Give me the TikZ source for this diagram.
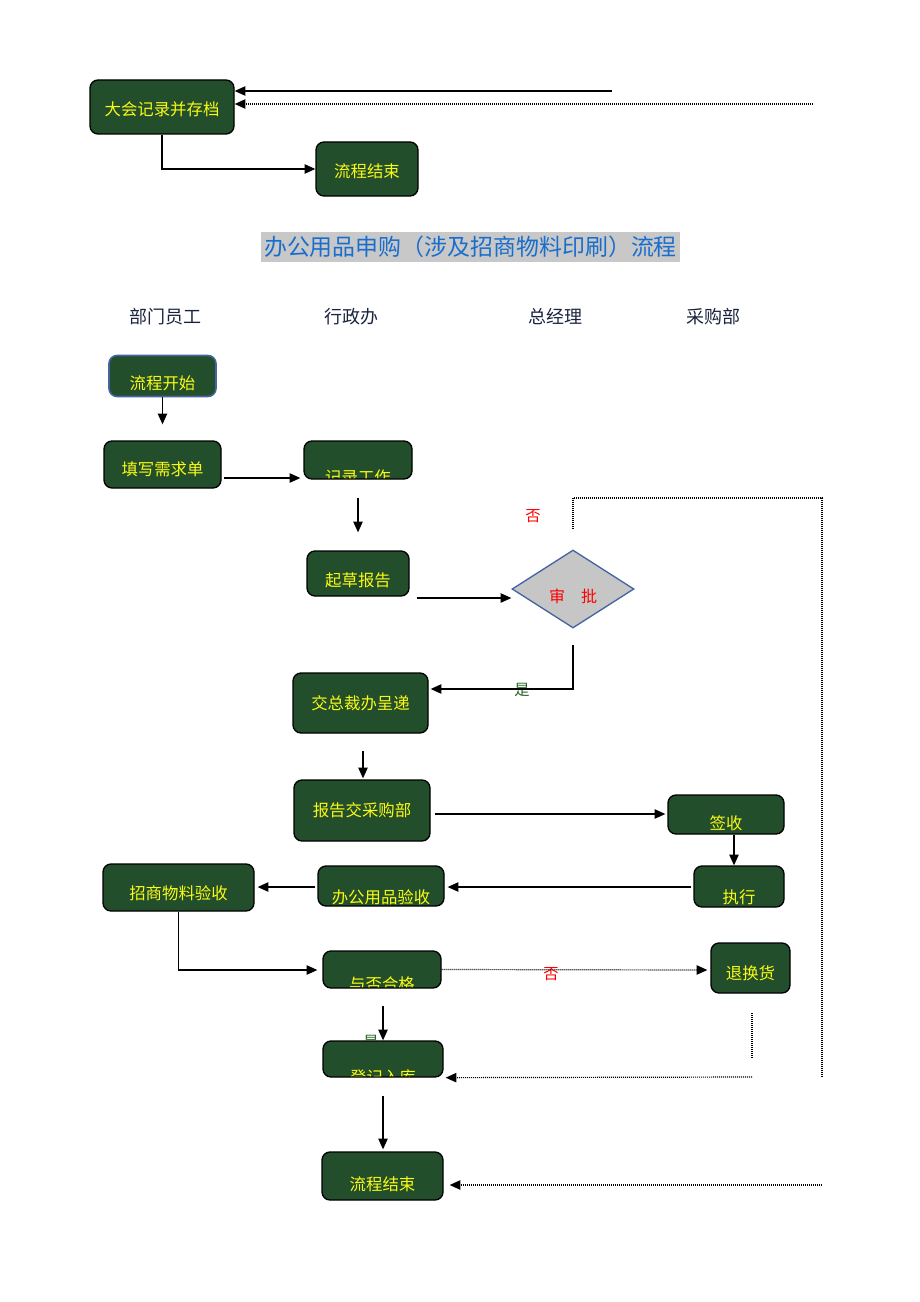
\documentclass[tikz,border=0pt]{standalone}
\usepackage{fontspec}
\setmainfont{Noto Sans CJK SC}
\usetikzlibrary{arrows.meta,shapes.geometric,calc}
\definecolor{boxgreen}{RGB}{34,78,44}
\definecolor{boxtext}{RGB}{250,250,20}
\definecolor{titleblue}{RGB}{25,110,205}
\definecolor{titlebg}{RGB}{200,200,200}
\definecolor{headcol}{RGB}{25,35,60}
\definecolor{dborder}{RGB}{70,100,160}
\definecolor{yesgreen}{RGB}{40,100,40}
\tikzset{
  box/.style={draw=black, line width=1pt, rounded corners=6pt, fill=boxgreen, inner sep=0pt},
  txt/.style={text=boxtext, font=\fontsize{12.3}{14}\selectfont, inner sep=0pt},
  arr/.style={line width=0.9pt, -{Triangle[length=8pt,width=7pt]}},
  dotarr/.style={line width=0.9pt, dash pattern=on 0.7pt off 0.8pt, -{Triangle[length=8pt,width=7pt]}},
  dotln/.style={line width=0.9pt, dash pattern=on 0.7pt off 0.8pt},
  head/.style={text=headcol, font=\fontsize{13.5}{15}\selectfont},
  nolab/.style={text=red, font=\fontsize{11.5}{13}\selectfont},
  yeslab/.style={text=yesgreen, font=\fontsize{11.5}{13}\selectfont},
}
% name, cx, cy, w, h, text, text y
\newcommand\bx[7]{%
  \pgfmathsetmacro\tyoff{-(#7-#3)*0.75}%
  \node[box, minimum width=#4*0.75pt, minimum height=#5*0.75pt,
    path picture={\node[txt] at ([yshift=\tyoff pt]path picture bounding box.center) {#6};}] (#1) at (#2,#3) {};}
\begin{document}
\begin{tikzpicture}[x=0.75pt,y=-0.75pt]
\useasboundingbox (0,0) rectangle (920,1302);

% top part
\bx{n1}{162}{107}{144}{54}{大会记录并存档}{109}
\bx{n2}{367}{169}{102}{54}{流程结束}{171}
\coordinate (a1) at (612,91);
\coordinate (a2) at (813,104);
\draw[arr] (a1) -- (a1 -| n1.east);
\draw[dotarr] (a2) -- (a2 -| n1.east);
\draw[arr] (n1.south) |- (n2.west);

% title
\node[fill=titlebg, text=titleblue, font=\fontsize{17.2}{19}\selectfont, inner sep=0pt, minimum width=419*0.75pt, minimum height=30*0.75pt] (title) at (470.5,247) {办公用品申购（涉及招商物料印刷）流程};

% headers
\node[head] (h1) at (165,317) {部门员工};
\node[head] (h2) at (351,317) {行政办};
\node[head] (h3) at (555,317) {总经理};
\node[head] (h4) at (713,317) {采购部};

% nodes
\node[box, draw=dborder, line width=1.2pt, minimum width=107*0.75pt, minimum height=41*0.75pt] (n3) at (162.5,376) {};
\node[txt] at (162.5,383) {流程开始};
\bx{n4}{162.5}{464.5}{117}{47}{填写需求单}{469}
\bx{n5}{358}{460}{108}{38}{记录工作}{477}
\bx{n6}{358}{573.5}{102}{45}{起草报告}{580}
\node[diamond, draw=dborder, line width=1pt, fill=gray!45, inner sep=0pt, minimum width=122*0.75pt, minimum height=78*0.75pt] (n7) at (573,589) {};
\node[text=red, font=\fontsize{12}{13}\selectfont] at (573,596) {审\hspace{1em}批};
\node[yeslab] (yes1) at (522,690) {是};
\bx{n8}{360.5}{703}{135}{60}{交总裁办呈递}{703}
\bx{n9}{362}{810.5}{136}{61}{报告交采购部}{810}
\bx{n10}{726}{814.5}{116}{39}{签收}{823}
\bx{n11}{739}{886.5}{90}{41}{执行}{897}
\bx{n12}{381}{886}{126}{40}{办公用品验收}{897}
\bx{n13}{178.5}{887.5}{151}{47}{招商物料验收}{893}
\bx{n14}{382}{969.5}{118}{37}{与否合格}{984}
\bx{n15}{750.5}{968}{79}{50}{退换货}{973}
\node[yeslab] (yes2) at (371,1042) {是};
\bx{n16}{383}{1059}{120}{36}{登记入库}{1077}
\bx{n17}{382.5}{1176}{121}{48}{流程结束}{1184}

% labels
\node[nolab] (no1) at (533,516) {否};
\node[nolab] (no2) at (551,974) {否};

% connectors
\draw[arr] (n3.south) -- ($(n3.south)+(0,27)$);
\draw[arr] ($(n4.east)+(2,13.5)$) -- ($(n5.west)+(-3,18)$);
\draw[arr] ($(n5.south)+(0,18)$) -- ($(n6.north)+(0,-18)$);
\draw[arr] ($(n6.east)+(7,24.5)$) -- ($(n7.west)+(0,9)$);
\coordinate (r1) at (822,498);
\coordinate (r2) at (822,1077);
\draw[dotln] ($(n7.north)+(0,-20)$) |- (r1) -- (r2);
\draw[arr] ($(n7.south)+(0,16)$) |- ($(n8.east)+(2,-14)$);
\draw[arr] ($(n8.south)+(2.5,17)$) -- ($(n9.north)+(1,-1)$);
\draw[arr] ($(n9.east)+(4,3.5)$) -- ($(n10.west)+(-2,-0.5)$);
\draw[arr] ($(n10.south)+(8,0)$) -- ($(n11.north)+(-5,0)$);
\draw[arr] ($(n11.west)+(-2,0.5)$) -- ($(n12.east)+(3,1)$);
\draw[arr] ($(n12.west)+(-2,1)$) -- ($(n13.east)+(3,-0.5)$);
\draw[arr] (n13.south) |- ($(n14.west)+(-5,0.5)$);
\draw[dotarr] (n14.east) -- ($(n15.west)+(-3,2)$);
\coordinate (r3) at (752,1013);
\coordinate (r4) at (752,1077);
\draw[dotln] (r3) -- ++(0,45);
\draw[dotarr] (r4) -- ($(n16.south east)+(2,0)$);
\draw[arr] ($(n14.south)+(1,17)$) -- (n16.north);
\draw[arr] ($(n16.south)+(0,18)$) -- ($(n17.north)+(0.5,-2)$);
\coordinate (r5) at (822,1185);
\draw[dotarr] (r5) -- ($(n17.east)+(6,9)$);
\end{tikzpicture}
\end{document}
